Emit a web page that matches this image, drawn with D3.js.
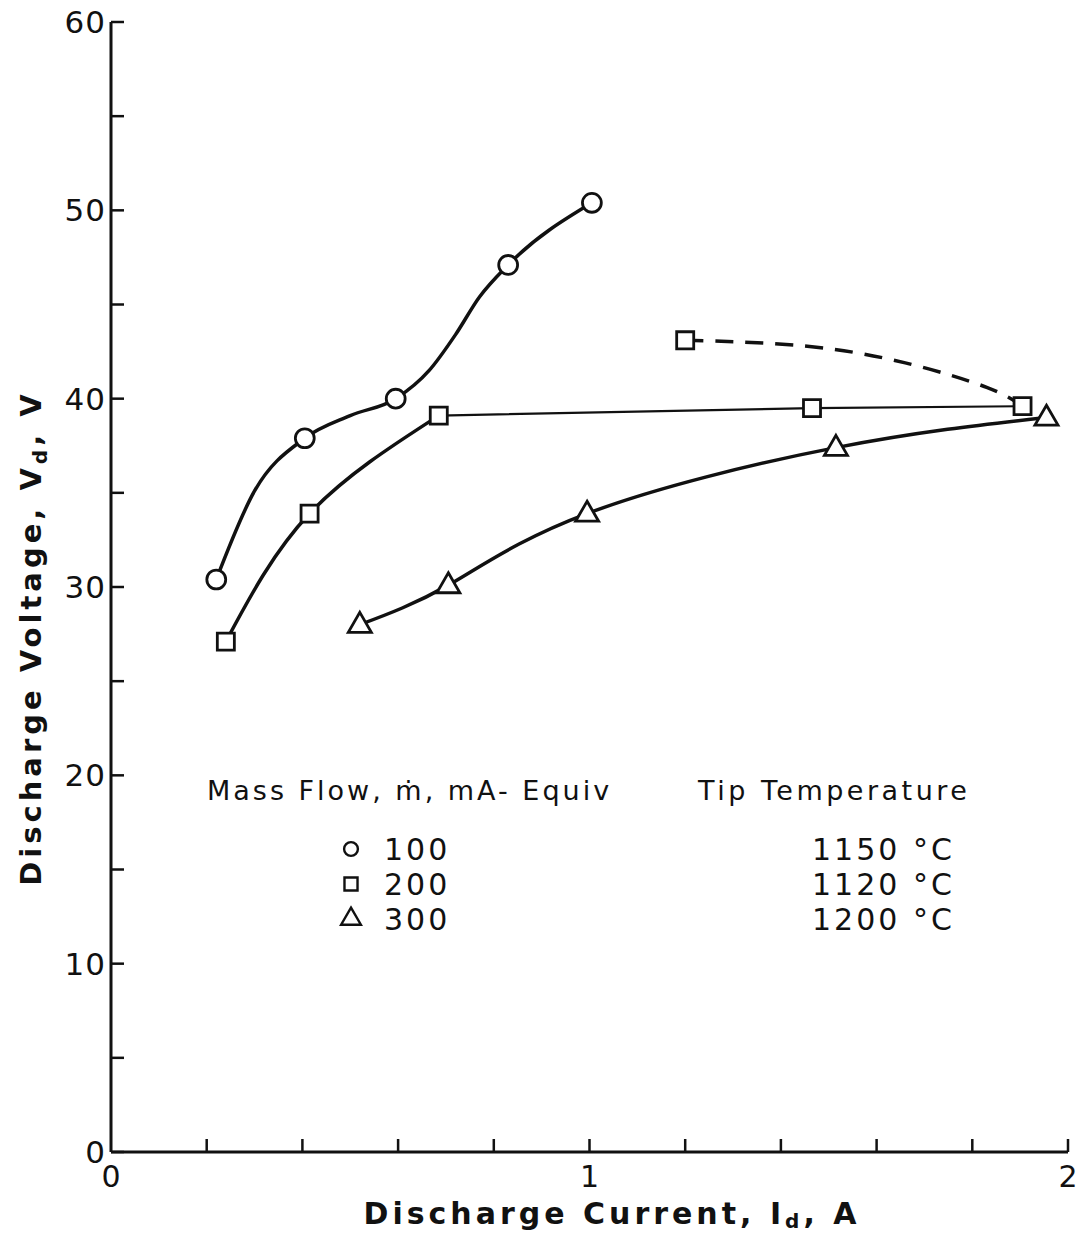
<!DOCTYPE html>
<html>
<head>
<meta charset="utf-8">
<script src="https://cdn.jsdelivr.net/npm/d3@7"></script>
<style>
  body { margin: 0; background: #fff; }
  text { font-family: "DejaVu Sans", "Liberation Sans", sans-serif; fill: #111; }
</style>
</head>
<body>
<div id="chart"></div>
<script>
// Data (I in A, V in V)
const flow100 = [{i: 0.22, v: 30.4}, {i: 0.405, v: 37.9}, {i: 0.595, v: 40.0}, {i: 0.83, v: 47.1}, {i: 1.005, v: 50.4}];
const flow200 = [{i: 0.24, v: 27.1}, {i: 0.415, v: 33.9}, {i: 0.685, v: 39.1}, {i: 1.465, v: 39.5}, {i: 1.905, v: 39.6}];
const flow300 = [{i: 0.52, v: 28.0}, {i: 0.705, v: 30.1}, {i: 0.995, v: 33.9}, {i: 1.515, v: 37.4}, {i: 1.955, v: 39.0}];
const flow200Extra = [{i: 1.2, v: 43.1}];
// hand-drawn curve shapes
const trace100 = [{i: 0.22, v: 30.4}, {i: 0.30, v: 35.1}, {i: 0.405, v: 37.9}, {i: 0.50, v: 39.1},
  {i: 0.595, v: 40.0}, {i: 0.665, v: 41.5}, {i: 0.72, v: 43.4}, {i: 0.77, v: 45.4},
  {i: 0.83, v: 47.1}, {i: 1.005, v: 50.4}];
const dashedPath = [{i: 1.2, v: 43.1}, {i: 1.45, v: 42.8}, {i: 1.66, v: 41.9}, {i: 1.83, v: 40.6}, {i: 1.905, v: 39.6}];

const legendFlows = ["100", "200", "300"];
const legendTemps = ["1150 °C", "1120 °C", "1200 °C"];
const xTicks = d3.range(0, 2.01, 0.2);
const xLabels = [0, 1, 2];
const yTicks = d3.range(0, 61, 5);
const yLabels = [0, 10, 20, 30, 40, 50, 60];

const W = 1080, H = 1238;
const svg = d3.select("#chart").append("svg")
  .attr("width", W).attr("height", H);

const x = d3.scaleLinear().domain([0, 2]).range([111, 1068]);
const y = d3.scaleLinear().domain([0, 60]).range([1152, 22]);

// axes lines
svg.append("line").attr("x1", x(0)).attr("x2", x(2)).attr("y1", y(0)).attr("y2", y(0))
  .attr("stroke", "#111").attr("stroke-width", 3);
svg.append("line").attr("x1", x(0)).attr("x2", x(0)).attr("y1", y(0)).attr("y2", y(60))
  .attr("stroke", "#111").attr("stroke-width", 3);

// y ticks (inward)
svg.selectAll(".ytick").data(yTicks).enter().append("line")
  .attr("x1", x(0)).attr("x2", x(0) + 13)
  .attr("y1", d => y(d)).attr("y2", d => y(d))
  .attr("stroke", "#111").attr("stroke-width", 2.5);
svg.selectAll(".ylab").data(yLabels).enter().append("text")
  .attr("x", x(0) - 5).attr("y", d => y(d) + 11)
  .attr("text-anchor", "end").style("font-size", "31px").style("letter-spacing", "1px")
  .text(d => d);

// x ticks (upward)
svg.selectAll(".xtick").data(xTicks.slice(1)).enter().append("line")
  .attr("x1", d => x(d)).attr("x2", d => x(d))
  .attr("y1", y(0)).attr("y2", y(0) - 13)
  .attr("stroke", "#111").attr("stroke-width", 2.5);
svg.selectAll(".xlab").data(xLabels).enter().append("text")
  .attr("x", d => x(d)).attr("y", y(0) + 35)
  .attr("text-anchor", "middle").style("font-size", "30px")
  .text(d => d);

// axis titles
svg.append("text")
  .attr("x", 612).attr("y", 1224)
  .attr("text-anchor", "middle")
  .style("font-size", "30px").style("font-weight", "bold").style("letter-spacing", "4px")
  .html('Discharge  Current, I<tspan dy="4" font-size="20">d</tspan><tspan dy="-4">, A</tspan>');

svg.append("text")
  .attr("transform", "translate(41,638) rotate(-90)")
  .attr("text-anchor", "middle")
  .style("font-size", "29px").style("font-weight", "bold").style("letter-spacing", "4px")
  .html('Discharge  Voltage, V<tspan dy="6" font-size="20">d</tspan><tspan dy="-6">, V</tspan>');

// curves
const line = d3.line().x(d => x(d.i)).y(d => y(d.v)).curve(d3.curveNatural);
const lineMono = d3.line().x(d => x(d.i)).y(d => y(d.v)).curve(d3.curveMonotoneX);

svg.append("path").datum(trace100).attr("d", lineMono)
  .attr("fill", "none").attr("stroke", "#111").attr("stroke-width", 3.5);
svg.append("path").datum(flow200.slice(0, 3)).attr("d", line)
  .attr("fill", "none").attr("stroke", "#111").attr("stroke-width", 3.5);
svg.append("path").datum(flow200.slice(2)).attr("d", d3.line().x(d => x(d.i)).y(d => y(d.v)))
  .attr("fill", "none").attr("stroke", "#111").attr("stroke-width", 2.2);
svg.append("path").datum(flow300).attr("d", line)
  .attr("fill", "none").attr("stroke", "#111").attr("stroke-width", 3.5);
svg.append("path").datum(dashedPath).attr("d", line)
  .attr("fill", "none").attr("stroke", "#111").attr("stroke-width", 3.5)
  .attr("stroke-dasharray", "18,12");

// markers
const sym = {
  circle: d3.symbol().type(d3.symbolCircle).size(280),
  square: d3.symbol().type(d3.symbolSquare).size(290),
  triangle: d3.symbol().type(d3.symbolTriangle).size(230)
};
function markers(data, shape) {
  svg.append("g").selectAll("path").data(data).enter().append("path")
    .attr("d", sym[shape])
    .attr("transform", d => `translate(${x(d.i)},${y(d.v) + (shape === "triangle" ? 1 : 0)})`)
    .attr("fill", "#fff").attr("stroke", "#111").attr("stroke-width", 2.8);
}
markers(flow100, "circle");
markers(flow200, "square");
markers(flow200Extra, "square");
markers(flow300, "triangle");

// legend
const lg = svg.append("g");
lg.append("text").attr("x", 207).attr("y", 800)
  .style("font-size", "27px").style("letter-spacing", "3px")
  .text("Mass Flow, ṁ, mA- Equiv");
lg.append("text").attr("x", 698).attr("y", 800)
  .style("font-size", "27px").style("letter-spacing", "3.5px")
  .text("Tip  Temperature");
const shapes = ["circle", "square", "triangle"];
legendFlows.forEach((f, k) => {
  const yy = 849 + k * 35;
  lg.append("path").attr("d", d3.symbol().type(
      shapes[k] === "circle" ? d3.symbolCircle : shapes[k] === "square" ? d3.symbolSquare : d3.symbolTriangle
    ).size(shapes[k] === "circle" ? 150 : shapes[k] === "square" ? 170 : 170))
    .attr("transform", `translate(351,${yy})`)
    .attr("fill", "#fff").attr("stroke", "#111").attr("stroke-width", 2.4);
  lg.append("text").attr("x", 384).attr("y", yy + 11)
    .style("font-size", "30px").style("letter-spacing", "3px").text(f);
  lg.append("text").attr("x", 812).attr("y", yy + 11)
    .style("font-size", "30px").style("letter-spacing", "3px").text(legendTemps[k]);
});
</script>
</body>
</html>
